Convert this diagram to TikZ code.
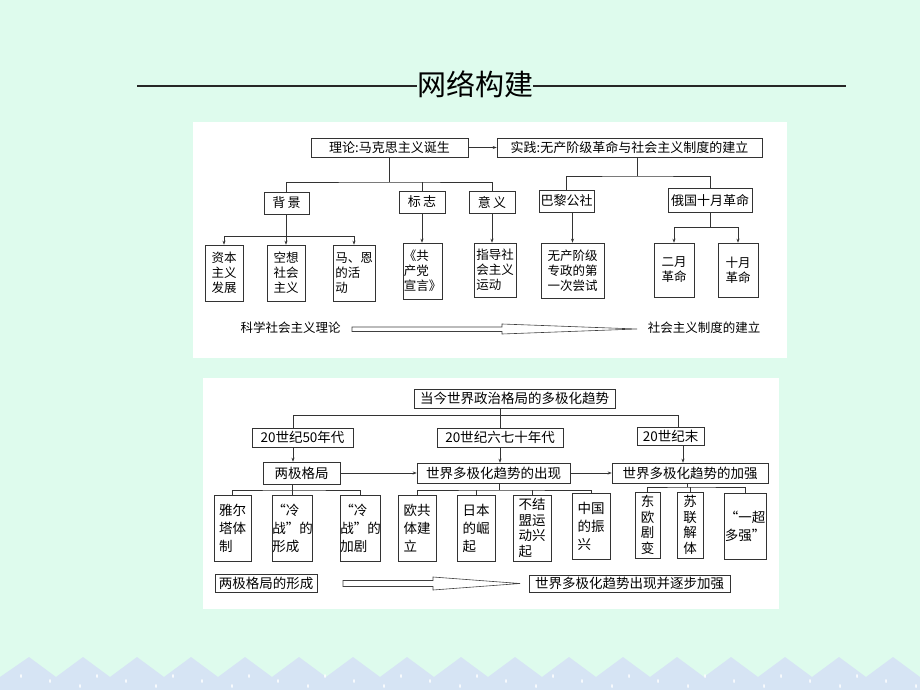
\documentclass[tikz,border=0pt]{standalone}
\usepackage{fontspec}
\setmainfont{Noto Sans CJK SC}
\usetikzlibrary{arrows.meta}
\definecolor{mint}{RGB}{222,251,237}
\definecolor{hill}{RGB}{214,228,244}
\begin{document}
\begin{tikzpicture}[x=1pt,y=-1pt,
	bx/.style={draw=black!80, line width=.6pt, fill=white, inner sep=0pt, align=left, font=\fontsize{12.5}{15}\selectfont},
	bt/.style={bx, font=\fontsize{13}{15}\selectfont},
	bb/.style={bx, font=\fontsize{13.5}{18}\selectfont},
	ln/.style={black!80, line width=.6pt},
	ar/.style={ln, -{Stealth[length=4pt,width=3pt]}},
	hollow/.style={draw=black!75, line width=.6pt, fill=white}]
	
	\useasboundingbox (0,0) rectangle (920,690);
	\fill[mint] (0,0) rectangle (920,690);
	\fill[hill] (0,690) -- (0,677) \foreach \k in {0,...,16}{ -- ({29+54*\k},657) -- ({56+54*\k},677)} -- (920,690) -- cycle;
	\foreach \j in {0,...,11}{
		\fill[white] ({21+76*\j},676) ellipse (.8 and 2);
		\fill[white] ({50+76*\j},681) ellipse (.8 and 2);
		\fill[white] ({80+76*\j},686) ellipse (.8 and 2);
	}
	\fill[white] (193,122) rectangle (787,358);
	\fill[white] (203,378) rectangle (779,609);
	
	% title
	\node[inner sep=0pt, font=\fontsize{29}{30}\selectfont] (ti) at (475,84) {网络构建};
	\coordinate (tl) at (137,86);
	\coordinate (tr) at (846,86);
	\draw[line width=1.3pt, black!85] (tl) -- (tl -| ti.west);
	\draw[line width=1.3pt, black!85] (tr -| ti.east) -- (tr);
	
	% upper chart
	\node[bt, minimum width=157, minimum height=19] (ll) at (389.5,147.5) {理论:马克思主义诞生};
	\node[bt, minimum width=265, minimum height=19] (sj) at (629.5,147.5) {实践:无产阶级革命与社会主义制度的建立};
	\node[bt, minimum width=45, minimum height=22] (bj) at (286.5,203) {背\,景};
	\node[bt, minimum width=46, minimum height=22] (bz) at (422,202) {标\,志};
	\node[bt, minimum width=46, minimum height=22] (yy) at (492,202) {意\,义};
	\node[bt, minimum width=55, minimum height=22] (bl) at (566.5,201) {巴黎公社};
	\node[bt, minimum width=84, minimum height=24] (eg) at (710,200) {俄国十月革命};
	
	\node[bx, minimum width=38, minimum height=56] (c1) at (224,273) {资本\\主义\\发展};
	\node[bx, minimum width=38, minimum height=56] (c2) at (286,273) {空想\\社会\\主义};
	\node[bx, minimum width=42, minimum height=56] (c3) at (354,273) {马、恩\\的活\\动};
	\node[bx, minimum width=39, minimum height=56] (c4) at (422.5,271) {《共\\产党\\宣言》};
	\node[bx, minimum width=42, minimum height=54] (c5) at (495,270) {指导社\\会主义\\运动};
	\node[bx, minimum width=63, minimum height=55] (c6) at (572.5,270.5) {无产阶级\\专政的第\\一次尝试};
	\node[bx, minimum width=40, minimum height=54] (c7) at (674,270) {二月\\革命};
	\node[bx, minimum width=40, minimum height=54] (c8) at (738,270) {十月\\革命};
	
	\draw[ar] (ll) -- (sj);
	\coordinate (j1) at (389.5,182);
	\draw[ln] (ll) -- (j1);
	\draw[ln] (bj.north) |- (j1) -| (yy.north);
	\draw[ln] (bz.north) -- (bz.north |- j1);
	\coordinate (j3) at (637,176);
	\draw[ln] (sj.south -| j3) -- (j3);
	\draw[ln] (bl.north) |- (j3) -| (eg.north);
	
	\coordinate (j2) at (286.5,236);
	\draw[ln] (bj) -- (j2);
	\draw[ln] (c1.north |- j2) -- (c3.north |- j2);
	\foreach \c in {c1,c2,c3}
		\draw[ar] (\c.north |- j2) -- (\c.north);
	\draw[ar] (bz.south) -- (bz.south |- c4.north);
	\draw[ar] (yy.south) -- (yy.south |- c5.north);
	\draw[ar] (c6.north |- bl.south) -- (c6.north);
	\coordinate (j4) at (710,227);
	\draw[ln] (eg) -- (j4);
	\draw[ln] (c7.north |- j4) -- (c8.north |- j4);
	\foreach \c in {c7,c8}
		\draw[ar] (\c.north |- j4) -- (\c.north);
	
	\node[inner sep=0pt, font=\fontsize{12.5}{15}\selectfont] (t1) at (290.5,328) {科学社会主义理论};
	\node[inner sep=0pt, font=\fontsize{12.5}{15}\selectfont] (t2) at (704,328) {社会主义制度的建立};
	\draw[hollow] (352,327) -- (502,327) -- (502,324) -- (637,329) -- (502,334) -- (502,331.5) -- (352,331.5) -- cycle;
	
	% lower chart
	\node[bb, minimum width=201, minimum height=19] (dj) at (514.5,398.5) {当今世界政治格局的多极化趋势};
	\node[bb, minimum width=101, minimum height=19] (n50) at (302.5,437.5) {20世纪50年代};
	\node[bb, minimum width=126, minimum height=19] (n67) at (500,437.5) {20世纪六七十年代};
	\node[bb, minimum width=67, minimum height=18] (nm) at (670.5,436) {20世纪末};
	\node[bb, minimum width=77, minimum height=22] (lj) at (301.5,473) {两极格局};
	\node[bb, minimum width=153, minimum height=20] (cx) at (493.5,473) {世界多极化趋势的出现};
	\node[bb, minimum width=156, minimum height=20] (jq) at (690,473) {世界多极化趋势的加强};
	
	\node[bb, minimum width=37, minimum height=66] (d1) at (232.5,528) {雅尔\\塔体\\制};
	\node[bb, minimum width=37, minimum height=66] (d2) at (292.5,528) {“冷\\战”的\\形成};
	\node[bb, minimum width=37, minimum height=66] (d3) at (360.5,528) {“冷\\战”的\\加剧};
	\node[bb, minimum width=38, minimum height=66] (d4) at (417,528) {欧共\\体建\\立};
	\node[bb, minimum width=38, minimum height=66] (d5) at (476,528) {日本\\的崛\\起};
	\node[bx, font=\fontsize{13.5}{15.5}\selectfont, minimum width=38, minimum height=66] (d6) at (532,528) {不结\\盟运\\动兴\\起};
	\node[bb, minimum width=38, minimum height=66] (d7) at (591,526) {中国\\的振\\兴};
	\node[bx, font=\fontsize{13.5}{15.5}\selectfont, minimum width=25, minimum height=66] (d8) at (647.5,525) {东\\欧\\剧\\变};
	\node[bx, font=\fontsize{13.5}{15.5}\selectfont, minimum width=26, minimum height=66] (d9) at (690,525) {苏\\联\\解\\体};
	\node[bb, minimum width=42, minimum height=66] (d10) at (745,526) {“一超\\多强”};
	
	\coordinate (k0) at (293,415);
	\coordinate (k1) at (500,415);
	\coordinate (k2) at (678,415);
	\draw[ln] (dj.south -| k1) -- (k1);
	\draw[ln] (k0 |- n50.north) -- (k0) -- (k2) -- (k2 |- nm.north);
	\draw[ln] (n67.north) -- (n67.north |- k1);
	\draw[ar] (n50.south -| k0) -- (k0 |- lj.north);
	\draw[ar] (n67.south) -- (n67.south |- cx.north);
	\draw[ar] ([xshift=12.5pt]nm.south) -- ([xshift=12.5pt]nm.south |- jq.north);
	\draw[ar] (lj) -- (cx);
	\draw[ar] (cx) -- (jq);
	
	\coordinate (m1) at (292,490);
	\draw[ln] (lj.south -| m1) -- (m1);
	\draw[ln] (d1.north) |- (m1) -| (d3.north);
	\draw[ln] (d2.north) -- (d2.north |- m1);
	\coordinate (m2) at (499,490);
	\draw[ln] (cx.south -| m2) -- (m2);
	\draw[ln] (d4.north) |- (m2) -| (d7.north);
	\foreach \d in {d5,d6}
		\draw[ln] (\d.north) -- (\d.north |- m2);
	\coordinate (m3) at (687,487);
	\draw[ln] (jq.south -| m3) -- (m3);
	\draw[ln] (d8.north) |- (m3) -| (d10.north);
	\draw[ln] (d9.north) -- (d9.north |- m3);
	
	\node[bb, minimum width=102, minimum height=18] (b1) at (266,583) {两极格局的形成};
	\node[bb, minimum width=201, minimum height=17] (b2) at (629.5,583.5) {世界多极化趋势出现并逐步加强};
	\draw[hollow] (343,580.5) -- (433,580.5) -- (433,577) -- (520,583.5) -- (433,590) -- (433,586.5) -- (343,586.5) -- cycle;
	
\end{tikzpicture}
\end{document}
